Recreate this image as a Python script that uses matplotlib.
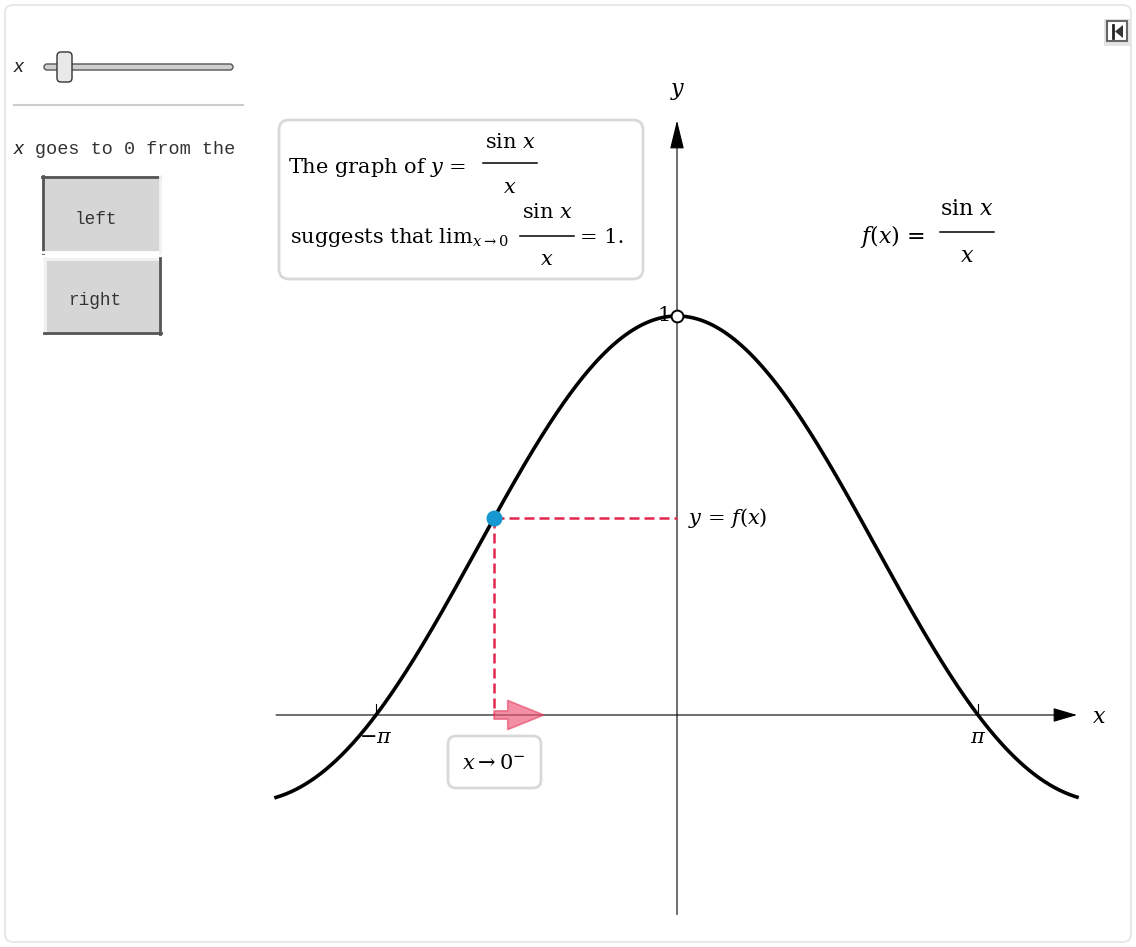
import numpy as np
import matplotlib.pyplot as plt
import matplotlib.patches as mpatches
import matplotlib.transforms as mtransforms
from matplotlib.lines import Line2D

# chart data
x_domain = [-4.185, 4.175]
y_axis_span = [-0.50, 1.49]
point_x = -1.91
arrow_end_x = -1.39
tick_vals = [-np.pi, np.pi]
tick_labels = [r'$-\pi$', r'$\pi$']
button_labels = ['left', 'right']

plt.rcParams['font.family'] = 'DejaVu Serif'
plt.rcParams['mathtext.fontset'] = 'dejavuserif'

W, H = 1136, 947
fig = plt.figure(figsize=(W / 100, H / 100), dpi=100)
# pixel coords, origin top-left
pix = mtransforms.Affine2D().scale(1 / 100, -1 / 100).translate(0, H / 100) + fig.dpi_scale_trans

# main axes mapped so that origin sits at pixel (677, 715)
X0, Y0, SX, SY = 677, 715, 95.81, 399
ax = fig.add_axes([0, 0, 1, 1])
ax.set_xlim(-X0 / SX, (W - X0) / SX)
ax.set_ylim(-(H - Y0) / SY, Y0 / SY)
ax.axis('off')


def ptext(x, y, s, **kw):
    kw.setdefault('va', 'baseline')
    return fig.text(x, y, s, transform=pix, **kw)


def pline(xs, ys, **kw):
    fig.add_artist(Line2D(xs, ys, transform=pix, **kw))


def pbox(x, y, w, h, r, **kw):
    fig.add_artist(mpatches.FancyBboxPatch((x, y), w, h, boxstyle=f'round,pad=0,rounding_size={r}',
                                           transform=pix, **kw))


def frac(xc, y_num, y_bar, y_den, half, size=15):
    ptext(xc, y_num, r'sin $x$', ha='center', fontsize=size)
    pline([xc - half, xc + half], [y_bar, y_bar], color='black', lw=1.1)
    ptext(xc, y_den, r'$x$', ha='center', fontsize=size)


# outer frame
pbox(5, 5, 1126, 937, 8, fc='none', ec='#e8e8e8', lw=1.5, zorder=-5)

# ---- left control panel ----
ptext(14, 72, 'x', fontsize=14, family='Liberation Sans', style='italic', color='#222')
pbox(44, 64, 189, 6, 3, fc='#cfcfcf', ec='#555555', lw=1)
pbox(57, 52, 15, 30, 4, fc='#e9e9e9', ec='#333333', lw=1)
pline([14, 243], [105, 105], color='#cccccc', lw=1.5)
ptext(14, 154, 'x', fontsize=14, family='Liberation Sans', style='italic', color='#222')
ptext(35, 154, 'goes to 0 from the', fontsize=13.3, family='Liberation Mono', color='#333')

# buttons
fig.add_artist(mpatches.Rectangle((42, 176), 118, 77, transform=pix, fc='#d6d6d6', ec='none'))
pline([42, 160], [177, 177], color='#555555', lw=2)
pline([43, 43], [176, 253], color='#555555', lw=2)
pline([42, 160], [252, 252], color='#ffffff', lw=2)
pline([160, 160], [176, 253], color='#f2f2f2', lw=2)
ptext(96, 224, button_labels[0], ha='center', fontsize=12.8, family='Liberation Mono', color='#333')

fig.add_artist(mpatches.Rectangle((44, 258), 116, 76, transform=pix, fc='#d6d6d6', ec='none'))
pline([44, 160], [259, 259], color='#f2f2f2', lw=2)
pline([45, 45], [258, 334], color='#f2f2f2', lw=2)
pline([44, 161], [333, 333], color='#555555', lw=2)
pline([160, 160], [258, 334], color='#555555', lw=2)
ptext(96, 305, button_labels[1], ha='center', fontsize=12.8, family='Liberation Mono', color='#333')

# top right icon
fig.add_artist(mpatches.Rectangle((1104, 19), 26, 27, transform=pix, fc='#e4e4e4', ec='none'))
fig.add_artist(mpatches.Rectangle((1107, 21), 20, 20, transform=pix, fc='white', ec='#666666', lw=1.5))
pline([1113, 1113], [25, 38], color='#222', lw=2)
fig.add_artist(mpatches.Polygon([(1123, 25), (1123, 38), (1115, 31.5)], transform=pix, fc='#333', ec='none'))

# ---- graph ----
xs = np.linspace(x_domain[0], x_domain[1], 800)
ys = np.sin(xs) / xs
ax.plot(xs, ys, color='black', lw=2.6, zorder=3)

# axes with arrowheads
ax.annotate('', xy=(x_domain[1], 0), xytext=(x_domain[0], 0),
            arrowprops=dict(arrowstyle='-|>,head_length=0.75,head_width=0.22', mutation_scale=20,
                            lw=0.8, color='black', shrinkA=0, shrinkB=0), zorder=2)
ax.annotate('', xy=(0, y_axis_span[1]), xytext=(0, y_axis_span[0]),
            arrowprops=dict(arrowstyle='-|>,head_length=0.9,head_width=0.22', mutation_scale=20,
                            lw=0.8, color='black', shrinkA=0, shrinkB=0), zorder=2)
ptext(1092, 723, r'$x$', fontsize=16)
ptext(670, 95, r'$y$', fontsize=16)

for v, lab in zip(tick_vals, tick_labels):
    ax.plot([v, v], [0, 0.027], color='black', lw=0.8)
    ax.annotate(lab, xy=(v, 0), xytext=(0, -28), textcoords='offset pixels',
                ha='center', va='baseline', fontsize=15)

# y = 1 label and open circle
ax.annotate('1', xy=(0, 1), xytext=(-6, 0), textcoords='offset pixels',
            ha='right', va='center', fontsize=15, zorder=4)
ax.plot([0], [1], 'o', ms=8.5, mfc='white', mec='black', mew=1.4, zorder=5)

# moving point and projections
py = np.sin(point_x) / point_x
red = '#e3264f'
ax.plot([point_x, 0], [py, py], color=red, lw=1.8, dashes=(4, 2), zorder=3)
ax.plot([point_x, point_x], [py, 0], color=red, lw=1.8, dashes=(4, 2), zorder=3)
ax.add_patch(mpatches.FancyArrowPatch((point_x, 0), (arrow_end_x, 0),
                                      arrowstyle='simple,head_length=2.6,head_width=2.1,tail_width=0.6',
                                      mutation_scale=10, shrinkA=0, shrinkB=0,
                                      fc=(0.93, 0.33, 0.45, 0.65), ec=(0.89, 0.2, 0.35, 0.55), lw=1.2, zorder=4))
ax.plot([point_x], [py], 'o', ms=10.5, color='#1597cf', zorder=6)
ax.annotate(r'$y$ = $f$($x$)', xy=(0, py), xytext=(11, 0), textcoords='offset pixels',
            ha='left', va='center', fontsize=15)

# x -> 0- label box
pbox(448, 736, 93, 52, 8, fc='white', ec='#d9d9d9', lw=2)
ptext(494, 769, r'$x \rightarrow 0^{-}$', ha='center', fontsize=15)

# explanation box
pbox(279, 120, 364, 159, 10, fc='white', ec='#d9d9d9', lw=2)
ptext(288, 173, r'The graph of $y$ =', fontsize=15)
frac(510, 148, 163, 193, 27)
ptext(290, 243, r'suggests that lim$_{x\rightarrow 0}$', fontsize=15)
frac(547, 218, 236, 265, 27)
ptext(580, 243, r'= 1.', fontsize=15)

# f(x) definition
ptext(860, 243, r'$f$($x$) =', fontsize=16)
frac(967, 215, 232, 262, 27, size=16)

fig.savefig('out.png', dpi=100)
